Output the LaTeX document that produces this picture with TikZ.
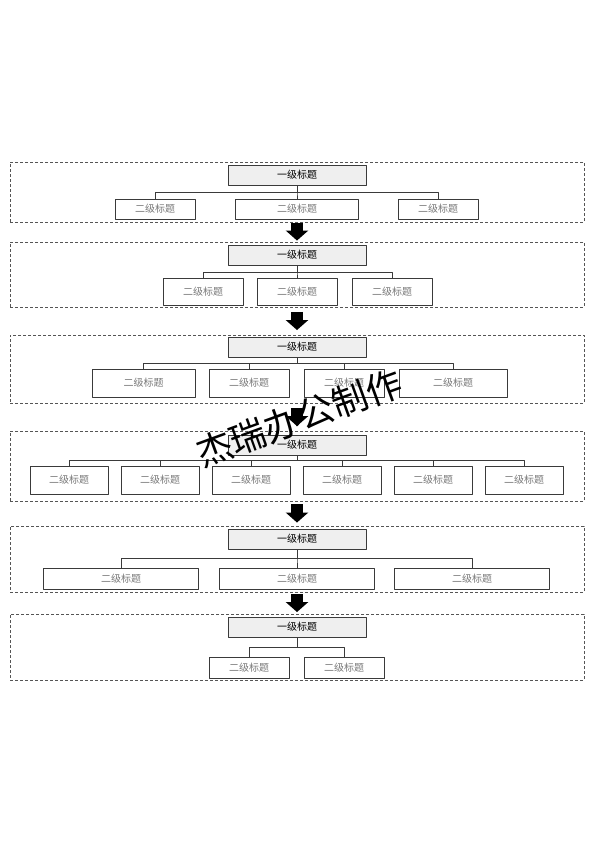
\documentclass[tikz,border=0pt]{standalone}
\usepackage{fontspec}
\newfontfamily\cjk{Noto Sans CJK SC}
\usetikzlibrary{arrows.meta}
\definecolor{framegray}{HTML}{555555}
\definecolor{linegray}{HTML}{3A3A3A}
\definecolor{topfill}{HTML}{EFEFEF}
\definecolor{subtext}{HTML}{7A7A7A}
\tikzset{
  every picture/.style={font=\cjk\fontsize{10}{12}\selectfont, line join=round, >=Stealth},
  panel/.style={draw=framegray, dash pattern=on 3pt off 2pt, line width=0.9pt, minimum width=574pt, inner sep=0pt},
  topbox/.style={draw=linegray, fill=topfill, line width=1pt, minimum width=138pt, minimum height=20pt, inner sep=0pt},
  subbox/.style={draw=linegray, line width=0.9pt, text=subtext, inner sep=0pt},
  link/.style={draw=linegray, line width=0.8pt},
  downarrow/.style={line width=12pt, -{Triangle[width=22pt,length=10pt]}},
}

\begin{document}
\begin{tikzpicture}[x=1pt,y=-1pt]
\fill[white] (0,0) rectangle (594,841);
% panel 1
\node[panel, minimum height=60pt] (p1) at (297,192) {};
\node[topbox] (t1) at (297,175) {一级标题};
\foreach \i/\x/\w in {1/155/80, 2/297/123, 3/438/80}{
  \node[subbox, minimum width=\w pt, minimum height=20pt] (c1\i) at (\x,209) {二级标题};
  \draw[link] (t1.south) -- ++(0,7) -| (c1\i.north);
}
% panel 2
\node[panel, minimum height=65pt] (p2) at (297,274.5) {};
\node[topbox] (t2) at (297,255) {一级标题};
\foreach \i/\x in {1/203, 2/297, 3/392}{
  \node[subbox, minimum width=80pt, minimum height=27pt] (c2\i) at (\x,291.5) {二级标题};
  \draw[link] (t2.south) -- ++(0,7) -| (c2\i.north);
}
% panel 3
\node[panel, minimum height=68pt] (p3) at (297,369) {};
\node[topbox] (t3) at (297,347) {一级标题};
\foreach \i/\x/\w in {1/143.5/103, 2/249/80, 3/344/80, 4/453/108}{
  \node[subbox, minimum width=\w pt, minimum height=28pt] (c3\i) at (\x,383) {二级标题};
  \draw[link] (t3.south) -- ++(0,6) -| (c3\i.north);
}
% panel 4
\node[panel, minimum height=70pt] (p4) at (297,466) {};
\node[topbox] (t4) at (297,445) {一级标题};
\foreach \i in {1,...,6}{
  \node[subbox, minimum width=78pt, minimum height=28pt] (c4\i) at (-22+91*\i,480) {二级标题};
  \draw[link] (t4.south) -- ++(0,5) -| (c4\i.north);
}
% panel 5
\node[panel, minimum height=66pt] (p5) at (297,559) {};
\node[topbox] (t5) at (297,539) {一级标题};
\foreach \i/\x in {1/121, 2/297, 3/472}{
  \node[subbox, minimum width=155pt, minimum height=21pt] (c5\i) at (\x,578.5) {二级标题};
  \draw[link] (t5.south) -- ++(0,9) -| (c5\i.north);
}
% panel 6
\node[panel, minimum height=66pt] (p6) at (297,647) {};
\node[topbox] (t6) at (297,627) {一级标题};
\foreach \i/\x in {1/249, 2/344}{
  \node[subbox, minimum width=80pt, minimum height=21pt] (c6\i) at (\x,667.5) {二级标题};
  \draw[link] (t6.south) -- ++(0,10) -| (c6\i.north);
}
% arrows between panels
\foreach \a/\b/\s in {1/2/1, 2/3/4.5, 3/4/4.5, 4/5/3, 5/6/1.5}{
  \draw[downarrow, shorten <=\s pt, shorten >=\s pt] (p\a.south) -- (p\b.north);
}
% watermark
\node[rotate=20, font=\cjk\fontsize{36}{36}\selectfont, inner sep=0pt] (wm) at (299,418) {杰瑞办公制作};
\end{tikzpicture}
\end{document}
